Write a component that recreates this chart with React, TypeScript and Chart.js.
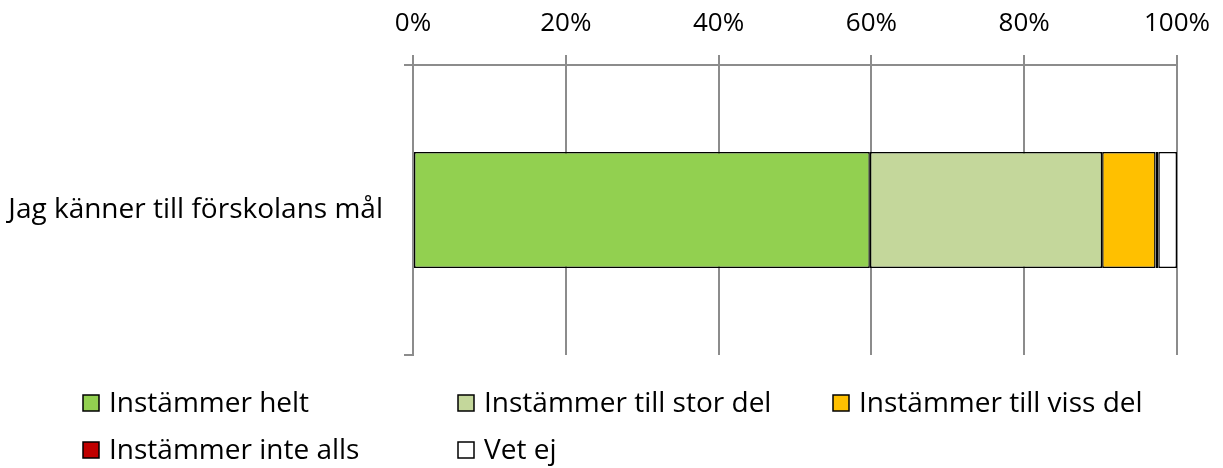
import React, { useEffect, useRef } from "react";
import { Chart, registerables } from "chart.js";

Chart.register(...registerables);

const categories = ["Jag känner till förskolans mål"];
const seriesNames = [
  "Instämmer helt",
  "Instämmer till stor del",
  "Instämmer till viss del",
  "Instämmer inte alls",
  "Vet ej",
];
const seriesValues = [[59.8], [30.4], [7.0], [0.35], [2.45]];
const seriesColors = ["#92D050", "#C4D79B", "#FFC000", "#C00000", "#FFFFFF"];
const xTicks = [0, 20, 40, 60, 80, 100];

const FONT = "'Open Sans', sans-serif";

const gridLegend = {
  id: "gridLegend",
  afterDraw(chart: any) {
    const ctx = chart.ctx;
    ctx.save();
    chart.data.datasets.forEach((ds: any, i: number) => {
      const col = i % 3;
      const row = Math.floor(i / 3);
      const x = 83 + col * 375;
      const y = 403 + row * 47;
      ctx.fillStyle = ds.backgroundColor;
      ctx.fillRect(x, y - 8, 16, 16);
      ctx.lineWidth = 1.5;
      ctx.strokeStyle = "#000";
      ctx.strokeRect(x, y - 8, 16, 16);
      ctx.fillStyle = "#000";
      ctx.font = `28px ${FONT}`;
      ctx.textBaseline = "middle";
      ctx.textAlign = "left";
      ctx.fillText(ds.label, x + 26, y + 1);
    });
    ctx.restore();
  },
};

export default function App() {
  const ref = useRef<HTMLCanvasElement | null>(null);
  useEffect(() => {
    if (!ref.current) return;
    const chart = new Chart(ref.current, {
      type: "bar",
      data: {
        labels: categories,
        datasets: seriesNames.map((name, i) => ({
          label: name,
          data: seriesValues[i],
          backgroundColor: seriesColors[i],
          borderColor: "#000",
          borderWidth: 1.5,
          borderSkipped: false,
          barPercentage: 0.4,
          categoryPercentage: 1,
        })),
      },
      options: {
        indexAxis: "y",
        animation: false,
        responsive: false,
        maintainAspectRatio: false,
        layout: { padding: { left: 0, right: 46, top: 0, bottom: 113 } },
        plugins: { legend: { display: false }, tooltip: { enabled: false } },
        scales: {
          x: {
            position: "top",
            stacked: true,
            min: 0,
            max: 100,
            afterBuildTicks: (s: any) => {
              s.ticks = xTicks.map((v) => ({ value: v }));
            },
            afterFit: (s: any) => {
              s.height = 65;
              s.paddingLeft = 0;
              s.paddingRight = 0;
            },
            ticks: {
              callback: (v: any) => v + "%",
              color: "#000",
              font: { family: FONT, size: 26 },
              padding: 16,
              maxRotation: 0,
            },
            grid: { color: "#8c8c8c", lineWidth: 2, tickLength: 10 },
            border: { color: "#8c8c8c", width: 2 },
          },
          y: {
            stacked: true,
            afterFit: (s: any) => {
              s.width = 413;
              s.paddingTop = 0;
              s.paddingBottom = 0;
            },
            ticks: {
              color: "#000",
              font: { family: FONT, size: 28 },
              padding: 21,
            },
            grid: {
              offset: true,
              drawOnChartArea: false,
              color: "#8c8c8c",
              lineWidth: 2,
              tickLength: 9,
            },
            border: { color: "#8c8c8c", width: 2 },
          },
        },
      },
      plugins: [gridLegend],
    });
    return () => chart.destroy();
  }, []);
  return (
    <div style={{ position: "absolute", left: 0, top: 0, width: 1223, height: 468 }}>
      <canvas ref={ref} width={1223} height={468} style={{ width: 1223, height: 468 }} />
    </div>
  );
}
